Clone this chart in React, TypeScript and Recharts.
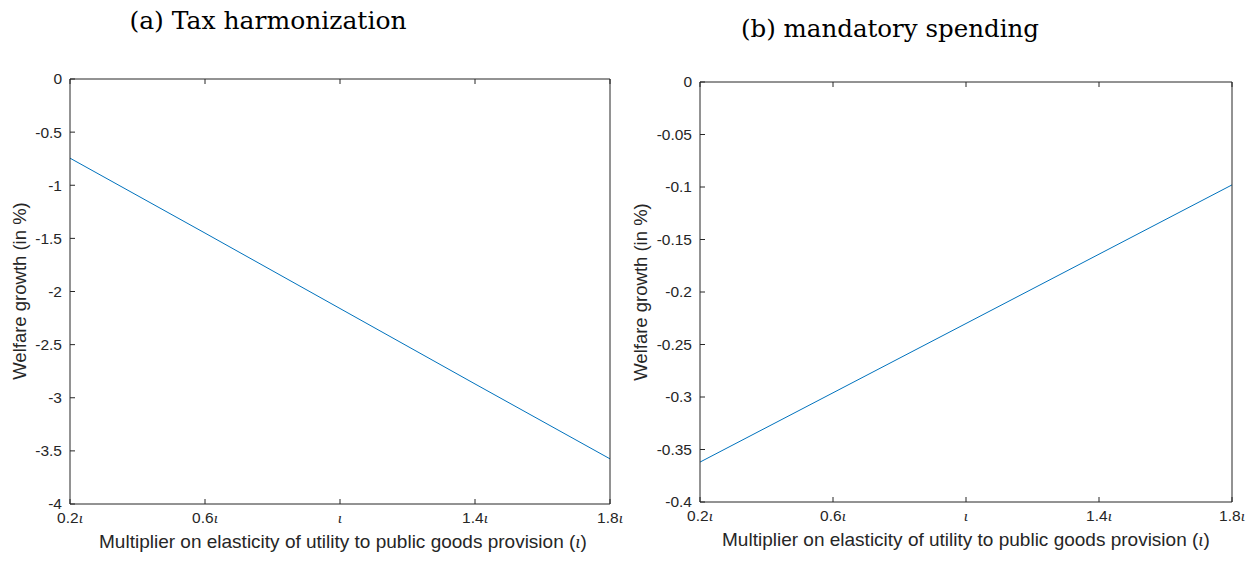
import React from "react";
import { LineChart, Line, XAxis, YAxis } from "recharts";

// x positions (multiples of iota) and the welfare curves
const multipliers = [0.2, 0.6, 1.0, 1.4, 1.8];
const taxHarmonization = [-0.745, -1.45, -2.16, -2.87, -3.575];
const mandatorySpending = [-0.362, -0.296, -0.23, -0.164, -0.098];

const xTicks = [0.2, 0.6, 1.0, 1.4, 1.8];
const xTickPrefix = ["0.2", "0.6", "", "1.4", "1.8"];
const leftYTicks = [0, -0.5, -1, -1.5, -2, -2.5, -3, -3.5, -4];
const rightYTicks = [0, -0.05, -0.1, -0.15, -0.2, -0.25, -0.3, -0.35, -0.4];

const taxData = multipliers.map((m, i) => ({ m, v: taxHarmonization[i] }));
const spendData = multipliers.map((m, i) => ({ m, v: mandatorySpending[i] }));

const AXIS = "#262626";
const BLUE = "#0072BD";
const SANS = "'Liberation Sans', Arial, sans-serif";
const SERIF = "'DejaVu Serif', 'Liberation Serif', serif";
const TICK = 5;

const BottomTick = (props: any) => {
  const { x, y, payload } = props;
  const i = xTicks.indexOf(payload.value);
  return (
    <g>
      <line x1={x} y1={y} x2={x} y2={y - TICK} stroke={AXIS} />
      <text x={x} y={y + 19} textAnchor="middle" fontFamily={SANS} fontSize={15.5} fill={AXIS}>
        {xTickPrefix[i]}
        <tspan fontFamily="'Liberation Serif', serif" fontStyle="italic">ι</tspan>
      </text>
    </g>
  );
};

const TopTick = (props: any) => (
  <line x1={props.x} y1={props.y} x2={props.x} y2={props.y + TICK} stroke={AXIS} />
);

const LeftTick = (props: any) => {
  const { x, y, payload } = props;
  return (
    <g>
      <line x1={x} y1={y} x2={x + TICK} y2={y} stroke={AXIS} />
      <text x={x - 8} y={y} dy="0.35em" textAnchor="end" fontFamily={SANS} fontSize={15.5} fill={AXIS}>
        {String(payload.value)}
      </text>
    </g>
  );
};

const RightTick = (props: any) => (
  <line x1={props.x} y1={props.y} x2={props.x - TICK} y2={props.y} stroke={AXIS} />
);

function Panel({ data, domain, yTicks, margin, width }: any) {
  return (
    <LineChart width={width} height={561} data={data} margin={margin}>
      <XAxis dataKey="m" type="number" domain={[0.2, 1.8]} ticks={xTicks} height={40}
        tickSize={0} tickMargin={0} tickLine={false} tick={<BottomTick />}
        axisLine={{ stroke: AXIS }} interval={0} />
      <XAxis xAxisId="top" orientation="top" dataKey="m" type="number" domain={[0.2, 1.8]}
        ticks={xTicks} height={5} tickSize={0} tickMargin={0} tickLine={false}
        tick={<TopTick />} axisLine={{ stroke: AXIS }} interval={0} />
      <YAxis type="number" domain={domain} ticks={yTicks} width={50} tickSize={0}
        tickMargin={0} tickLine={false} tick={<LeftTick />} axisLine={{ stroke: AXIS }} interval={0} />
      <YAxis yAxisId="right" orientation="right" type="number" domain={domain} ticks={yTicks}
        width={5} tickSize={0} tickMargin={0} tickLine={false} tick={<RightTick />}
        axisLine={{ stroke: AXIS }} interval={0} />
      <Line dataKey="v" stroke={BLUE} strokeWidth={1} dot={false} isAnimationActive={false} />
    </LineChart>
  );
}

const xLabel = (
  <>
    Multiplier on elasticity of utility to public goods provision (
    <span style={{ fontFamily: "'Liberation Serif', serif", fontStyle: "italic" }}>ι</span>)
  </>
);

const abs = (s: React.CSSProperties): React.CSSProperties => ({ position: "absolute", ...s });

export default function App() {
  return (
    <div style={abs({ left: 0, top: 0, width: 1255, height: 561, background: "#fff", overflow: "hidden" })}>
      <div style={abs({ left: 0, top: 0 })}>
        <Panel data={taxData} domain={[-4, 0]} yTicks={leftYTicks} width={630}
          margin={{ top: 74, right: 15, bottom: 17, left: 20 }} />
      </div>
      <div style={abs({ left: 630, top: 0 })}>
        <Panel data={spendData} domain={[-0.4, 0]} yTicks={rightYTicks} width={625}
          margin={{ top: 77, right: 18, bottom: 19, left: 20 }} />
      </div>

      <div style={abs({ left: 68, width: 400, top: 6, textAlign: "center", fontFamily: SERIF, fontSize: 25, color: "#000", whiteSpace: "nowrap" })}>
        (a) Tax harmonization
      </div>
      <div style={abs({ left: 690, width: 400, top: 14, textAlign: "center", fontFamily: SERIF, fontSize: 24.5, color: "#000", whiteSpace: "nowrap" })}>
        (b) mandatory spending
      </div>

      <div style={abs({ left: 43, width: 600, top: 531, textAlign: "center", fontFamily: SANS, fontSize: 19, color: AXIS, whiteSpace: "nowrap" })}>
        {xLabel}
      </div>
      <div style={abs({ left: 666, width: 600, top: 529, textAlign: "center", fontFamily: SANS, fontSize: 19, color: AXIS, whiteSpace: "nowrap" })}>
        {xLabel}
      </div>

      <div style={abs({ left: 20, top: 291, transform: "translate(-50%, -50%) rotate(-90deg)", fontFamily: SANS, fontSize: 18.5, color: AXIS, whiteSpace: "nowrap" })}>
        Welfare growth (in %)
      </div>
      <div style={abs({ left: 641, top: 292, transform: "translate(-50%, -50%) rotate(-90deg)", fontFamily: SANS, fontSize: 18.5, color: AXIS, whiteSpace: "nowrap" })}>
        Welfare growth (in %)
      </div>
    </div>
  );
}
